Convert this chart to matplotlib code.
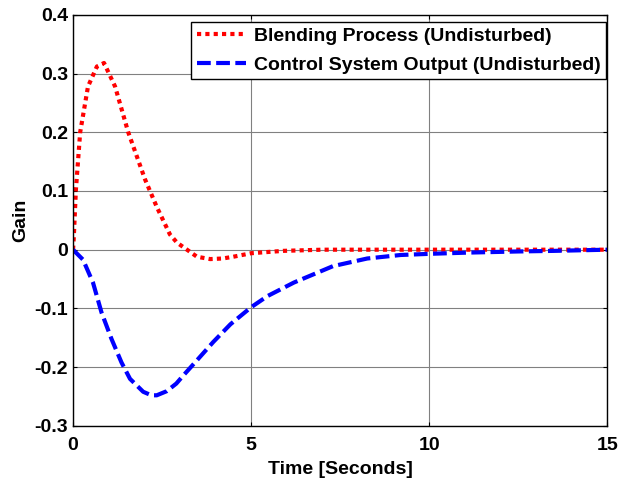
import matplotlib.pyplot as plt

plt.rcParams['font.family'] = ['Liberation Sans', 'DejaVu Sans']
plt.rcParams['font.weight'] = 'bold'

# Blending process (undisturbed)
t_blend = [0, 0.02, 0.08, 0.2, 0.42, 0.67, 0.87, 1.18, 1.55, 2.02, 2.35, 2.72,
           2.92, 3.2, 3.48, 3.85, 4.2, 4.5, 5.0, 5.9, 7.0, 9.0, 12.0, 15.0]
y_blend = [0, 0.02, 0.102, 0.2, 0.278, 0.312, 0.318, 0.278, 0.2, 0.12, 0.073, 0.026,
           0.012, 0.0, -0.012, -0.016, -0.015, -0.012, -0.006, -0.002, 0.0, 0.0, 0.0, 0.0]

# Control system output (undisturbed)
t_ctrl = [0, 0.28, 0.56, 0.8, 1.08, 1.36, 1.6, 1.97, 2.2, 2.35, 2.63, 2.9,
          3.1, 3.47, 3.94, 4.42, 5.0, 5.46, 6.2, 7.3, 8.26, 9.2, 10.03, 11.06,
          12.5, 13.5, 15.0]
y_ctrl = [0, -0.017, -0.056, -0.107, -0.152, -0.192, -0.22, -0.242, -0.248, -0.248,
          -0.241, -0.228, -0.214, -0.189, -0.157, -0.127, -0.098, -0.079, -0.056,
          -0.028, -0.015, -0.009, -0.007, -0.005, -0.003, -0.002, 0.0]

fig = plt.figure(figsize=(6.19, 4.79), dpi=100)
ax = fig.add_axes([0.118, 0.111, 0.863, 0.858])

ax.plot(t_blend, y_blend, color='red', linewidth=3, linestyle=(0, (1, 1)),
        label='Blending Process (Undisturbed)')
ax.plot(t_ctrl, y_ctrl, color='blue', linewidth=3, linestyle=(0, (3.3, 1.3)),
        label='Control System Output (Undisturbed)')

ax.set_xlim(0, 15)
ax.set_ylim(-0.3, 0.4)
ax.set_xticks([0, 5, 10, 15])
ax.set_yticks([-0.3, -0.2, -0.1, 0, 0.1, 0.2, 0.3, 0.4])
ax.set_yticklabels(['-0.3', '-0.2', '-0.1', '0', '0.1', '0.2', '0.3', '0.4'])
ax.grid(True, color='#808080', linewidth=0.8)
ax.tick_params(direction='in', top=True, right=True, labelsize=14, length=3)
ax.tick_params(axis='x', pad=8)
for s in ax.spines.values():
    s.set_linewidth(1.0)

ax.set_xlabel('Time [Seconds]', fontsize=14, fontweight='bold', labelpad=5)
ax.set_ylabel('Gain', fontsize=14, fontweight='bold', labelpad=4)

leg = ax.legend(loc='upper right', bbox_to_anchor=(0.998, 0.983), fontsize=14,
                handlelength=2.5, fancybox=False, framealpha=1, edgecolor='black',
                borderaxespad=0, borderpad=0.3, labelspacing=0.55,
                handletextpad=0.4)
leg.get_frame().set_linewidth(1.0)

fig.savefig('out.png', dpi=100)
